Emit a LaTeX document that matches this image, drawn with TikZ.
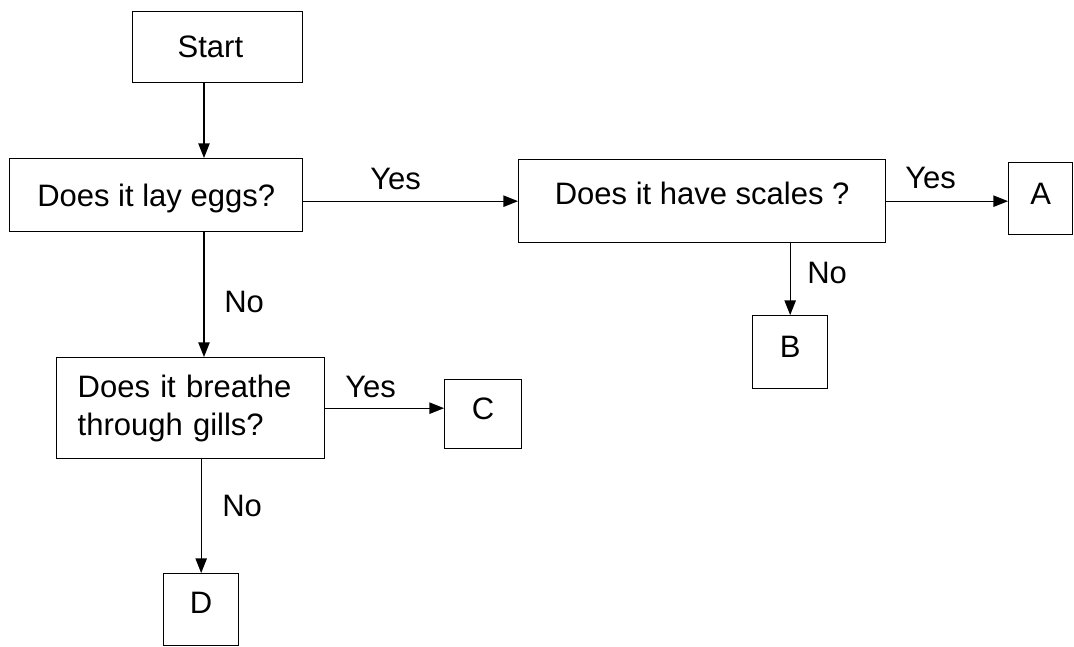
\documentclass[tikz,border=0pt]{standalone}
\usepackage{fontspec}
\setmainfont{Liberation Sans}
\usetikzlibrary{arrows.meta}
\begin{document}
\begin{tikzpicture}[x=0.75pt,y=-0.75pt,
  box/.style={draw=black, line width=1pt, inner sep=0pt, anchor=north west,
              font=\fontsize{23.25}{28.5}\selectfont},
  lbl/.style={inner sep=0pt, anchor=base west, font=\fontsize{23.25}{28.5}\selectfont},
  arr/.style={draw=black, line width=1pt, -{Triangle[length=11pt,width=8.5pt]}},
]
\useasboundingbox[fill=white] (0,0) rectangle (1074,646);

% boxes
\node[box, minimum width=127.5pt, minimum height=53.25pt,
      inner xsep=33.75pt, text width=60pt, align=left] (start) at (132,11) {Start};
\node[box, minimum width=219.75pt, minimum height=54.75pt, text depth=0pt] (lay) at (9,158) {Does it lay eggs?};
\node[box, minimum width=275.25pt, minimum height=62.25pt, text depth=12pt] (scales) at (518,159) {Does it have scales ?};
\node[box, minimum width=48pt, minimum height=54pt, text depth=7.5pt] (A) at (1008,162) {A};
\node[box, minimum width=56.25pt, minimum height=54.75pt, text depth=7.5pt] (B) at (752,315) {B};
\node[box, minimum width=201pt, minimum height=75.75pt,
      inner xsep=15.75pt, text width=169.5pt, align=left] (gills) at (56,357) {Does it breathe\\through gills?};
\node[box, minimum width=57.75pt, minimum height=51.75pt, text depth=7.5pt] (C) at (444,379) {C};
\node[box, minimum width=56.25pt, minimum height=54pt, text depth=10.5pt] (D) at (163,573) {D};

% spine
\coordinate (sp) at (204,0);

% connectors
\draw[arr] (start.south -| sp) -- (lay.north -| sp);
\draw[arr] (lay.east |- scales.west) -- (scales.west);
\draw[arr] (scales.east) -- (scales.east -| A.west);
\draw[arr] (scales.south -| B.north) -- (B.north);
\draw[arr] (lay.south -| sp) -- (gills.north -| sp);
\draw[arr] (gills.east) -- (gills.east -| C.west);
\draw[arr] (gills.south -| D.north) -- (D.north);

% labels
\node[lbl] (yes1) at (370,189) {Yes};
\node[lbl] (yes2) at (905,188) {Yes};
\node[lbl] (no1) at (224,312) {No};
\node[lbl] (no2) at (807,283) {No};
\node[lbl] (yes3) at (345,397) {Yes};
\node[lbl] (no3) at (222,516) {No};
\end{tikzpicture}
\end{document}
